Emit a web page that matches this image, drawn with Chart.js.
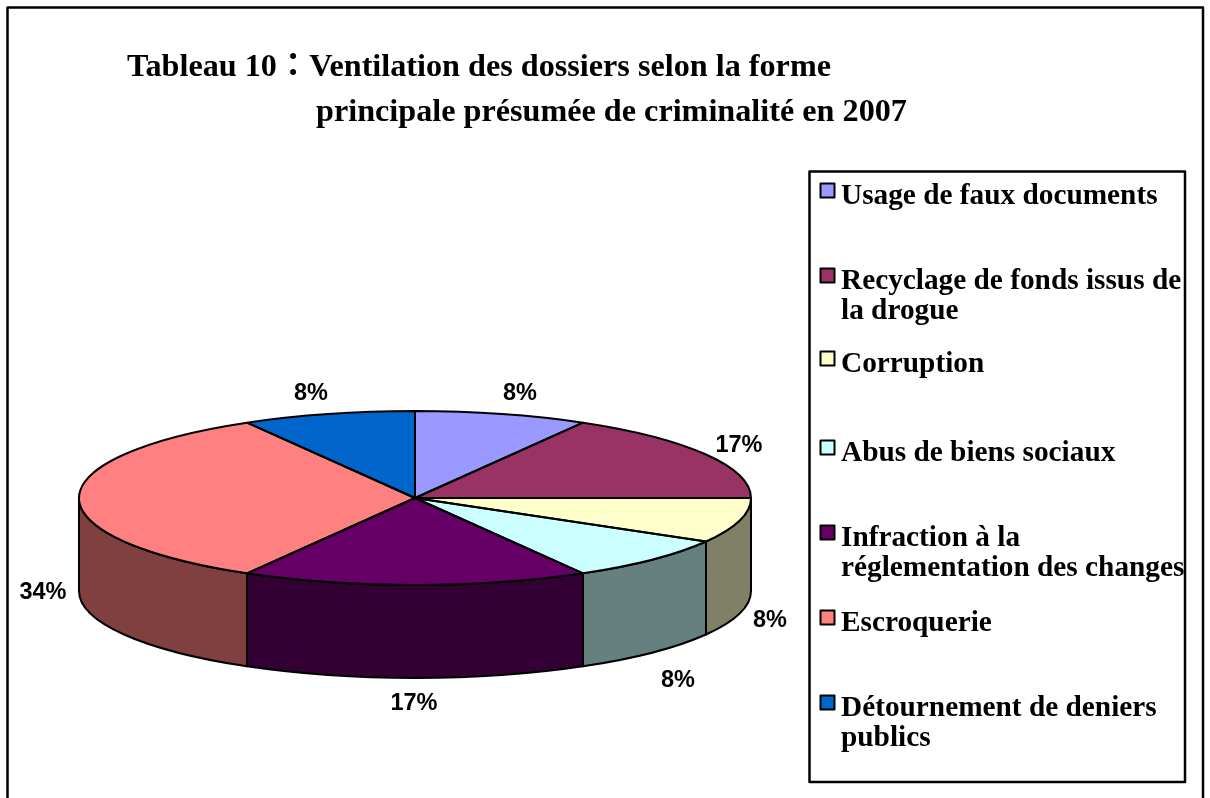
<!DOCTYPE html>
<html lang="fr"><head><meta charset="utf-8">
<style>html,body{margin:0;padding:0;background:#fff;overflow:hidden}canvas{display:block}</style>
<script src="https://cdn.jsdelivr.net/npm/chart.js@4"></script></head>
<body><canvas id="c" width="1210" height="798"></canvas>
<script>
// Data
const titleLines = ["Tableau 10：Ventilation des dossiers selon la forme", "principale présumée de criminalité en 2007"];
const categories = ["Usage de faux documents", ["Recyclage de fonds issus de", "la drogue"], "Corruption", "Abus de biens sociaux", ["Infraction à la", "réglementation des changes"], "Escroquerie", ["Détournement de deniers", "publics"]];
const shares = [8.4, 16.8, 8.4, 8.4, 16.8, 33.6, 8.4];
const colours = ["#9999FF", "#993366", "#FFFFCC", "#CCFFFF", "#660066", "#FF8080", "#0066CC"];
const wallColours = ["#4D4D80", "#4D1A33", "#808066", "#668080", "#330033", "#804040", "#003366"];

// Layout
const PIE_CY = 498, RY = 87, DEPTH = 93;
const titlePos = [[127, 76], [316, 121]];
const labelPos = [[520, 394], [739, 446], [770, 621], [678, 681], [414, 704], [43, 593], [311, 394]];
const legendY = [204, 289, 372, 461, 546, 631, 716];
const legendLine = 30;
const TITLE_FONT = 'bold 32.2px "Liberation Serif","Noto Sans CJK TC",serif';
const LEGEND_FONT = 'bold 29.3px "Liberation Serif",serif';
const PCT_FONT = 'bold 23.5px "Liberation Sans",sans-serif';

const pie3d = {
  id: 'pie3d',
  beforeDatasetsDraw(chart) {
    const ctx = chart.ctx, arcs = chart.getDatasetMeta(0).data;
    ctx.save();
    ctx.lineWidth = 2; ctx.strokeStyle = '#000'; ctx.lineJoin = 'round';
    arcs.forEach((el, i) => {
      const p = el.getProps(['x', 'startAngle', 'endAngle', 'outerRadius'], true);
      const a0 = Math.max(p.startAngle, 0), a1 = Math.min(p.endAngle, Math.PI);
      if (a1 <= a0) return;
      ctx.beginPath();
      ctx.ellipse(p.x, PIE_CY + DEPTH, p.outerRadius, RY, 0, a0, a1);
      ctx.ellipse(p.x, PIE_CY, p.outerRadius, RY, 0, a1, a0, true);
      ctx.closePath();
      ctx.fillStyle = wallColours[i];
      ctx.fill(); ctx.stroke();
    });
    ctx.restore();
    const cy = arcs[0].y, k = RY / arcs[0].outerRadius;
    ctx.save();
    ctx.translate(0, PIE_CY); ctx.scale(1, k); ctx.translate(0, -cy);
  },
  afterDatasetsDraw(chart) {
    const ctx = chart.ctx, arcs = chart.getDatasetMeta(0).data;
    ctx.restore();
    ctx.save();
    ctx.lineWidth = 2; ctx.strokeStyle = '#000'; ctx.lineJoin = 'round';
    arcs.forEach(el => {
      const p = el.getProps(['x', 'startAngle', 'endAngle', 'outerRadius'], true);
      ctx.beginPath();
      ctx.moveTo(p.x, PIE_CY);
      ctx.ellipse(p.x, PIE_CY, p.outerRadius, RY, 0, p.startAngle, p.endAngle);
      ctx.closePath();
      ctx.stroke();
    });
    ctx.fillStyle = '#000'; ctx.textBaseline = 'alphabetic'; ctx.textAlign = 'left';
    // frame
    ctx.lineWidth = 2.5;
    ctx.strokeRect(7.5, 7.5, 1195.5, 830);
    ctx.strokeRect(809.5, 171.5, 375.5, 610.5);
    // title
    ctx.font = TITLE_FONT;
    titleLines.forEach((t, i) => ctx.fillText(t, titlePos[i][0], titlePos[i][1]));
    // percent labels
    ctx.font = PCT_FONT; ctx.textAlign = 'center'; ctx.textBaseline = 'middle';
    shares.forEach((v, i) => ctx.fillText(Math.round(v) + '%', labelPos[i][0], labelPos[i][1]));
    // legend
    ctx.textAlign = 'left'; ctx.textBaseline = 'alphabetic'; ctx.font = LEGEND_FONT;
    chart.data.labels.forEach((lab, i) => {
      const y = legendY[i];
      ctx.fillStyle = colours[i];
      ctx.fillRect(821, y - 20, 13, 13);
      ctx.lineWidth = 2;
      ctx.strokeStyle = '#000';
      ctx.strokeRect(820.5, y - 20.5, 14, 14);
      ctx.fillStyle = '#000';
      [].concat(lab).forEach((line, j) => ctx.fillText(line, 841, y + j * legendLine));
    });
    ctx.restore();
  }
};

new Chart(document.getElementById('c'), {
  type: 'pie',
  data: { labels: categories, datasets: [{ data: shares, backgroundColor: colours, borderWidth: 0 }] },
  options: {
    responsive: false, animation: false, devicePixelRatio: 1,
    layout: { padding: { left: 79, right: 459, top: 0, bottom: 0 } },
    plugins: { legend: { display: false }, title: { display: false }, tooltip: { enabled: false } }
  },
  plugins: [pie3d]
});
</script></body></html>
